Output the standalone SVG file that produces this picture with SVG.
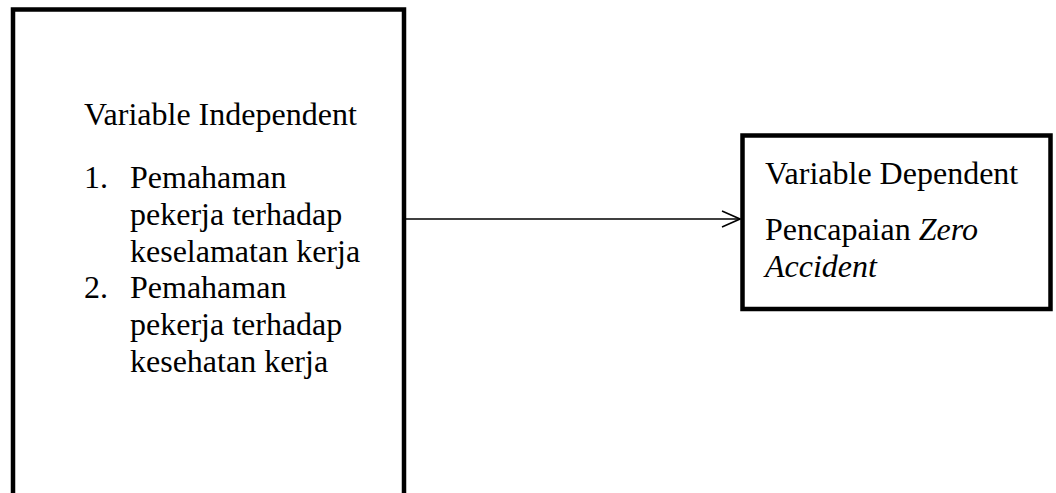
<svg xmlns="http://www.w3.org/2000/svg" width="1056" height="493" viewBox="0 0 1056 493">
<style>
.box{fill:#fff;stroke:#000;stroke-width:4.5}
.t{font-family:"Liberation Serif","Times New Roman",serif;font-size:32px;fill:#000}
.conn{stroke:#000;stroke-width:1.5;fill:none}
</style>
<defs>
<marker id="arr" markerWidth="20" markerHeight="20" refX="19" refY="9" orient="auto" markerUnits="userSpaceOnUse">
<path d="M1,1 L19,9 L1,17" fill="none" stroke="#000" stroke-width="1.5"/>
</marker>
</defs>
<rect width="1056" height="493" fill="#fff"/>
<g id="node-independent">
<rect class="box" x="13" y="9.5" width="391" height="500"/>
<text class="t" x="84" y="125">Variable Independent</text>
<text class="t" x="84" y="188">1.</text>
<text class="t" x="130" y="188">Pemahaman</text>
<text class="t" x="130" y="225">pekerja terhadap</text>
<text class="t" x="130" y="262">keselamatan kerja</text>
<text class="t" x="84" y="298">2.</text>
<text class="t" x="130" y="298">Pemahaman</text>
<text class="t" x="130" y="335">pekerja terhadap</text>
<text class="t" x="130" y="372">kesehatan kerja</text>
</g>
<g id="node-dependent">
<rect class="box" x="742.5" y="135.5" width="308" height="173.5"/>
<text class="t" x="765" y="184">Variable Dependent</text>
<text class="t" x="765" y="240">Pencapaian <tspan font-style="italic">Zero</tspan></text>
<text class="t" x="765" y="277" font-style="italic">Accident</text>
</g>
<g id="connectors">
<line class="conn" x1="406" y1="219" x2="740" y2="219" marker-end="url(#arr)"/>
</g>
</svg>
